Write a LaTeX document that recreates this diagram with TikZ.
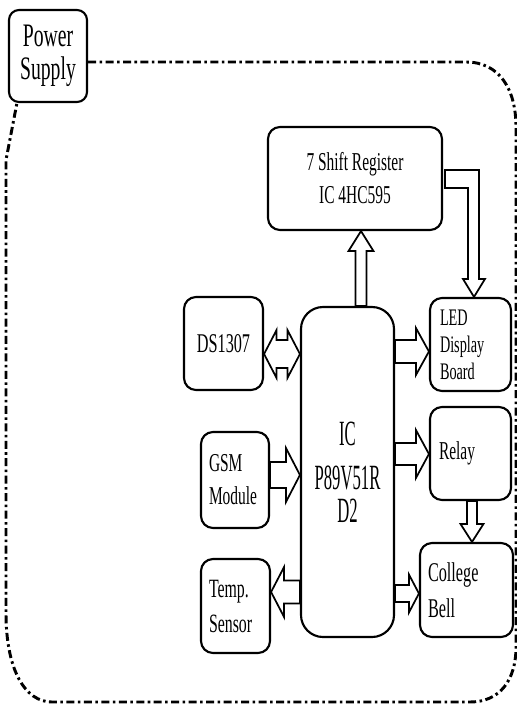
\documentclass[tikz,border=0pt]{standalone}
\usepackage{fontspec}
\usetikzlibrary{calc}
\newfontfamily\nf[FakeStretch=0.6]{Liberation Serif}
\newfontfamily\nfic[FakeStretch=0.47]{Liberation Serif}
\newcommand\myarrow[5]{%
  \path ($(#2)!#5!(#1)$) coordinate (hb);
  \draw[arrowline] ($(#1)!#3!90:(#2)$) -- ($(hb)!#3!90:(#2)$) -- ($(hb)!#4!90:(#2)$) -- (#2)
    -- ($(hb)!#4!-90:(#2)$) -- ($(hb)!#3!-90:(#2)$) -- ($(#1)!#3!-90:(#2)$) -- cycle;
}
\newcommand\mydblarrow[5]{%
  \path ($(#2)!#5!(#1)$) coordinate (hb) ($(#1)!#5!(#2)$) coordinate (ha);
  \draw[arrowline] (#1) -- ($(ha)!#4!90:(#2)$) -- ($(ha)!#3!90:(#2)$) -- ($(hb)!#3!90:(#2)$)
    -- ($(hb)!#4!90:(#2)$) -- (#2) -- ($(hb)!#4!-90:(#2)$) -- ($(hb)!#3!-90:(#2)$)
    -- ($(ha)!#3!-90:(#2)$) -- ($(ha)!#4!-90:(#2)$) -- cycle;
}
\tikzset{
  box/.style={draw, line width=1.6pt, rounded corners=9pt, inner sep=0pt, align=center},
  lbox/.style={box, align=left},
  arrowline/.style={draw, line width=1.3pt, line join=miter},
  border/.style={line width=2.2pt, dash pattern=on 6pt off 2.6pt on 1.9pt off 2.6pt},
}
\begin{document}
\begin{tikzpicture}[x=0.75pt, y=-0.75pt]
\useasboundingbox (0,0) rectangle (517,704);

% boxes
\node[box, rounded corners=7.5pt, minimum width=58.5pt, minimum height=69pt,
      font={\nf\fontsize{24.6pt}{24.75pt}\selectfont}] (ps) at (48,56) {Power\\Supply};
\node[box, minimum width=130.5pt, minimum height=77.25pt,
      font={\nf\fontsize{19.3pt}{24.75pt}\selectfont}] (sr) at (355,178.5) {7 Shift Register\\IC 4HC595};
\node[box, rounded corners=16.5pt, minimum width=69.75pt, minimum height=247.5pt,
      font={\nfic\fontsize{26.6pt}{24.75pt}\selectfont}] (ic) at (347.5,472) {IC\\[8.25pt]P89V51R\\D2};
\node[box, minimum width=59.25pt, minimum height=69.75pt,
      font={\nf\fontsize{20.3pt}{24pt}\selectfont}] (ds) at (223.5,343.5) {DS1307};
\node[lbox, minimum width=60.75pt, minimum height=69.75pt, inner xsep=7.5pt, text width=45.75pt,
      font={\nf\fontsize{17.8pt}{20.25pt}\selectfont}] (led) at (470.5,344.5) {LED\\Display\\Board};
\node[lbox, minimum width=60.75pt, minimum height=69.75pt, inner xsep=6.75pt, text width=47.25pt,
      font={\nf\fontsize{19.3pt}{24pt}\selectfont}] (relay) at (470.5,453.5) {Relay};
\node[lbox, minimum width=51pt, minimum height=72pt, inner xsep=6pt, text width=39pt,
      font={\nf\fontsize{19.3pt}{24.75pt}\selectfont}] (gsm) at (235,480) {GSM\\Module};
\node[lbox, minimum width=69.75pt, minimum height=70.5pt, inner xsep=6pt, text width=57.75pt,
      font={\nf\fontsize{20.3pt}{27pt}\selectfont}] (bell) at (466.5,590) {College\\Bell};
\node[lbox, minimum width=51.75pt, minimum height=70.5pt, inner xsep=6pt, text width=39.75pt,
      font={\nf\fontsize{19.8pt}{26.25pt}\selectfont}] (temp) at (235.5,606) {Temp.\\Sensor};

% dash-dot supply border
\draw[border] ($(ps.east)+(0,6)$) -- (466,62) .. controls (500,62) and (516,90) .. (516,127)
  -- (516,647) .. controls (516,680) and (500,702) .. (470,702)
  -- (52,702) .. controls (25,702) and (6,670) .. (6,613)
  -- (6,160) -- ($(ps.south west)+(9,0)$);

% block arrows
\coordinate (a1s) at (361,0 |- ic.north);
\coordinate (a1t) at (361,0 |- sr.south);
\myarrow{a1s}{a1t}{4.125pt}{9.375pt}{15pt}

\coordinate (a2s) at (ds.east |- 0,354);
\coordinate (a2t) at (ic.west |- 0,354);
\mydblarrow{a2s}{a2t}{10.5pt}{18pt}{9.375pt}

\coordinate (a3s) at (ic.east |- 0,351.5);
\coordinate (a3t) at (led.west |- 0,351.5);
\myarrow{a3s}{a3t}{8.625pt}{17.625pt}{9.75pt}

\coordinate (a4s) at (gsm.east |- 0,475);
\coordinate (a4t) at (ic.west |- 0,475);
\myarrow{a4s}{a4t}{9.75pt}{20.25pt}{10.5pt}

\coordinate (a5s) at (ic.east |- 0,454);
\coordinate (a5t) at (relay.west |- 0,454);
\myarrow{a5s}{a5t}{8.25pt}{18pt}{9.75pt}

\coordinate (a6s) at (472,0 |- relay.south);
\coordinate (a6t) at (472,0 |- bell.north);
\myarrow{a6s}{a6t}{3.75pt}{8.625pt}{13.5pt}

\coordinate (a7s) at (ic.east |- 0,593.5);
\coordinate (a7t) at (bell.west |- 0,593.5);
\myarrow{a7s}{a7t}{6.375pt}{14.25pt}{7.5pt}

\coordinate (a8s) at (ic.west |- 0,592);
\coordinate (a8t) at (temp.east |- 0,592);
\myarrow{a8s}{a8t}{8.625pt}{18.75pt}{9.75pt}

% bent arrow shift register -> LED board
\coordinate (ltip) at (474,0 |- led.north);
\draw[arrowline] ($(sr.east)+(2,-8.5)$) -- ($(ltip |- sr.east)+(5,-8.5)$) -- ($(ltip)+(5,-18)$)
  -- ($(ltip)+(11,-18)$) -- (ltip) -- ($(ltip)+(-11,-18)$) -- ($(ltip)+(-6,-18)$)
  -- ($(ltip |- sr.east)+(-6,9.5)$) -- ($(sr.east)+(2,9.5)$) -- cycle;
\end{tikzpicture}
\end{document}
